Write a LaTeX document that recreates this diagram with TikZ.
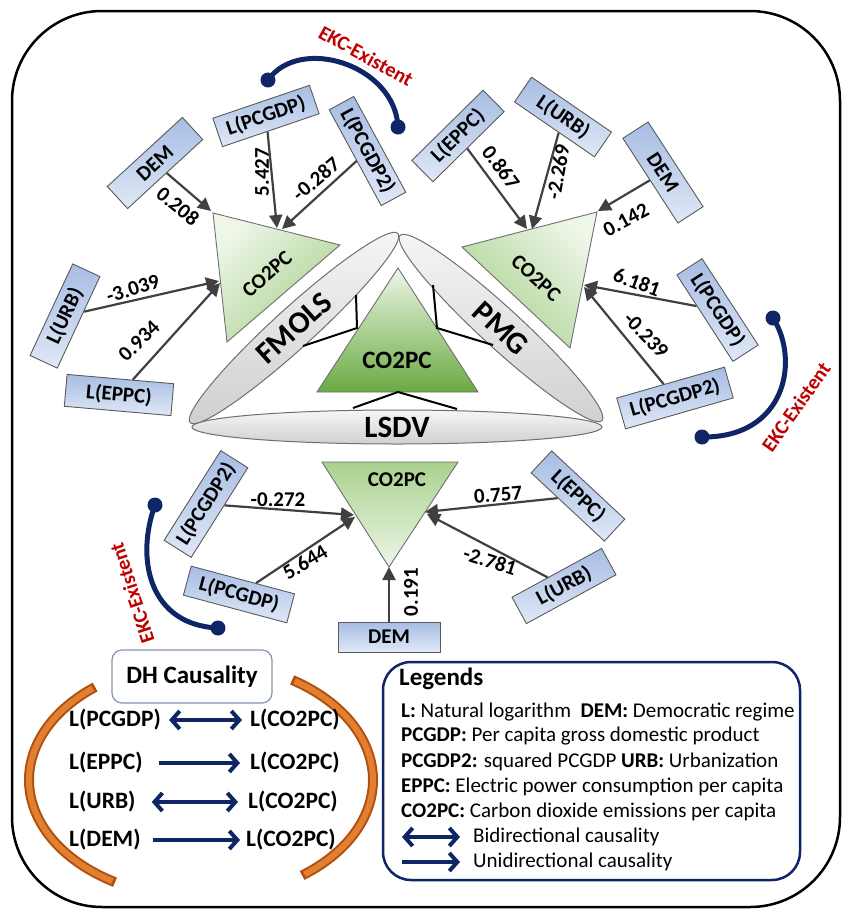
\documentclass[tikz,border=0pt]{standalone}
\usepackage{fontspec}
\setmainfont{Carlito}
\usetikzlibrary{arrows.meta,shapes.geometric}
\definecolor{navy}{HTML}{0E2566}
\definecolor{ekcred}{HTML}{C00000}
\definecolor{arrgray}{HTML}{404040}
\definecolor{boxtop}{HTML}{A7BDE3}
\definecolor{boxbot}{HTML}{DFE8F6}
\definecolor{boxline}{HTML}{5A5A5A}
\definecolor{glight}{HTML}{EEF6E8}
\definecolor{gmid}{HTML}{A9D18E}
\definecolor{gdark}{HTML}{6AAA42}
\definecolor{gline}{HTML}{6F6F6F}
\definecolor{ellA}{HTML}{F6F6F6}
\definecolor{ellB}{HTML}{D0D0D0}
\definecolor{orD}{HTML}{B0500E}
\definecolor{orL}{HTML}{E27F30}
\definecolor{dhline}{HTML}{8496B0}
\newcommand{\fsz}[1]{\fontsize{#1}{#1}\selectfont}
\begin{document}
\begin{tikzpicture}[x=1pt,y=-1pt,
 box/.style={draw=boxline, line width=0.9pt, top color=boxtop, bottom color=boxbot, minimum height=30pt, inner sep=0pt, font=\bfseries\fsz{21}},
 num/.style={font=\bfseries\fsz{21}, inner sep=0pt},
 arr/.style={draw=arrgray, line width=2.2pt, -{Triangle[length=13pt,width=13pt]}},
 tri/.style={draw=gline, line width=0.9pt},
 tlab/.style={font=\bfseries\fsz{21}, inner sep=0pt},
 ell/.style={ellipse, draw=gline, line width=1pt, top color=ellA, bottom color=ellB, inner sep=0pt, font=\bfseries\fsz{31}},
 link/.style={draw=black, line width=2pt},
 ekc/.style={draw=navy, line width=5pt},
 dot/.style={circle, fill=navy, minimum size=15pt, inner sep=0pt},
 ekct/.style={text=ekcred, font=\bfseries\fsz{20.5}, inner sep=0pt},
 dht/.style={font=\bfseries\fsz{23.5}, inner sep=0pt, anchor=west},
 dharr/.style={draw=navy, line width=4pt, {Straight Barb[length=8pt,width=18pt]}-{Straight Barb[length=8pt,width=18pt]}},
 uarr/.style={draw=navy, line width=4pt, -{Straight Barb[length=8pt,width=18pt]}},
 lg/.style={font=\fsz{21}, inner sep=0pt, anchor=west},
 orarcD/.style={draw=orD, line width=10pt},
 orarcL/.style={draw=orL, line width=6pt},
]
\useasboundingbox (0,0) rectangle (843,914);
\draw[line width=2.5pt, rounded corners=90pt] (12,11) rectangle (840,907);

% ---------- triangles ----------
\coordinate (t1a) at (213,213); \coordinate (t1b) at (340,245); \coordinate (t1c) at (227,342);
\shade[tri, top color=glight, bottom color=gmid, shading angle=45] (t1a) -- (t1b) -- (t1c) -- cycle;
\coordinate (t2a) at (462,247); \coordinate (t2b) at (597,212); \coordinate (t2c) at (570,348);
\shade[tri, top color=glight, bottom color=gmid, shading angle=-45] (t2a) -- (t2b) -- (t2c) -- cycle;
\coordinate (t3a) at (398,268); \coordinate (t3b) at (317,392); \coordinate (t3c) at (478,392);
\shade[tri, top color=glight, bottom color=gdark] (t3a) -- (t3b) -- (t3c) -- cycle;
\coordinate (t4a) at (322,462); \coordinate (t4b) at (458,462); \coordinate (t4c) at (389,567);
\shade[tri, top color=gmid, bottom color=glight] (t4a) -- (t4b) -- (t4c) -- cycle;

\node[tlab, rotate=41] (c1) at (267,274) {CO2PC};
\node[tlab, rotate=-42] (c2) at (536,278) {CO2PC};
\node[tlab, font=\bfseries\fsz{25}] (c3) at (397,360) {CO2PC};
\node[tlab] (c4) at (397,480) {CO2PC};

% ---------- ellipses ----------
\node[ell, minimum width=410pt, minimum height=34pt] (lsdv) at (397,427) {LSDV};
\node[ell, minimum width=281pt, minimum height=40pt, rotate=42.3] (fm) at (294,328) {FMOLS};
\node[ell, minimum width=274pt, minimum height=40pt, rotate=-42.5] (pmg) at (501,328) {PMG};

\coordinate (l0) at (357,328); \coordinate (l1) at (356,295); \coordinate (l2) at (303,346);
\coordinate (r0) at (437,328); \coordinate (r1) at (433,285); \coordinate (r2) at (493,345);
\coordinate (b0) at (398,392); \coordinate (b1) at (353,408); \coordinate (b2) at (457,409);
\draw[link] (l1) -- (l0) -- (l2);
\draw[link] (r1) -- (r0) -- (r2);
\draw[link] (b1) -- (b0) -- (b2);

% ---------- boxes ----------
\node[box, minimum width=102pt, rotate=42.6] (dem1) at (155,163) {DEM};
\node[box, minimum width=102pt, rotate=18.8] (pc1) at (266,116) {L(PCGDP)};
\node[box, minimum width=109pt, minimum height=28pt, rotate=-61.5] (pcq1) at (367.5,151) {L(PCGDP2)};
\node[box, minimum width=101pt, rotate=65] (urb1) at (65,316) {L(URB)};
\node[box, minimum width=107pt, minimum height=32pt, rotate=-5] (ep1) at (119,395) {L(EPPC)};

\node[box, minimum width=100pt, rotate=44.6] (ep2) at (458,136) {L(EPPC)};
\node[box, minimum width=97pt, rotate=-34.5] (urb2) at (563,117) {L(URB)};
\node[box, minimum width=101pt, rotate=-57] (dem2) at (663,172.5) {DEM};
\node[box, minimum width=103pt, rotate=-57] (pc2) at (717.5,310) {L(PCGDP)};
\node[box, minimum width=112pt, minimum height=32pt, rotate=16] (pcq2) at (675,398) {L(PCGDP2)};

\node[box, minimum width=106pt, minimum height=32pt, rotate=57.7] (pcq3) at (206,504) {L(PCGDP2)};
\node[box, minimum width=107pt, rotate=-15] (pc3) at (239,594.5) {L(PCGDP)};
\node[box, minimum width=102pt] (dem3) at (389,637) {DEM};
\node[box, minimum width=100pt, rotate=-43] (ep3) at (578,496) {L(EPPC)};
\node[box, minimum width=102pt, rotate=28.6] (urb3) at (564,586) {L(URB)};

% ---------- arrow targets ----------
\coordinate (p1) at (211,211); \coordinate (p2) at (277,228); \coordinate (p3) at (282,229);
\coordinate (p4) at (219,281); \coordinate (p5) at (220,283);
\coordinate (q1) at (527,229); \coordinate (q2) at (532,229); \coordinate (q3) at (598,211);
\coordinate (q4) at (584,285); \coordinate (q5) at (584,287);
\coordinate (s1) at (354,515); \coordinate (s2) at (355,517); \coordinate (s3) at (425,512);
\coordinate (s4) at (427,514); \coordinate (s5) at (389,567);

\draw[arr] (dem1) -- (p1);
\draw[arr] (pc1) -- (p2);
\draw[arr] (pcq1) -- (p3);
\draw[arr] (urb1) -- (p4);
\draw[arr] (ep1) -- (p5);
\draw[arr] (ep2) -- (q1);
\draw[arr] (urb2) -- (q2);
\draw[arr] (dem2) -- (q3);
\draw[arr] (pc2) -- (q4);
\draw[arr] (pcq2) -- (q5);
\draw[arr] (pcq3) -- (s1);
\draw[arr] (pc3) -- (s2);
\draw[arr] (ep3) -- (s3);
\draw[arr] (urb3) -- (s4);
\draw[arr] (dem3) -- (s5);

% ---------- coefficient labels ----------
\node[num, rotate=-39] (n1) at (178,206) {0.208};
\node[num, rotate=90] (n2) at (262,172) {5.427};
\node[num, rotate=40] (n3) at (316,179) {-0.287};
\node[num, rotate=18] (n4) at (133,289) {-3.039};
\node[num, rotate=44] (n5) at (139,341) {0.934};
\node[num, rotate=-53] (n6) at (501,167) {0.867};
\node[num, rotate=80] (n7) at (558,172) {-2.269};
\node[num, rotate=28] (n8) at (626,220) {0.142};
\node[num, rotate=-20] (n9) at (637,282) {6.181};
\node[num, rotate=-46] (n10) at (646,335) {-0.239};
\node[num] (n11) at (278,500) {-0.272};
\node[num, rotate=31] (n12) at (305,562) {5.644};
\node[num, rotate=90] (n13) at (411,592) {0.191};
\node[num, rotate=5] (n14) at (498,495) {0.757};
\node[num, rotate=-18] (n15) at (490,561) {-2.781};

% ---------- EKC arcs ----------
\node[dot] (e1a) at (268,80) {};
\node[dot] (e1b) at (398,127) {};
\draw[ekc] (e1a.center) .. controls (300,35) and (395,65) .. (e1b.center);
\node[ekct, rotate=-29] (k1) at (366,56) {EKC-Existent};

\node[dot] (e2a) at (773,318) {};
\node[dot] (e2b) at (702,437) {};
\draw[ekc] (e2a.center) .. controls (800,360) and (786,438) .. (e2b.center);
\node[ekct, rotate=55] (k2) at (796,407) {EKC-Existent};

\node[dot] (e3a) at (155,505) {};
\node[dot] (e3b) at (218,628) {};
\draw[ekc] (e3a.center) .. controls (135,560) and (150,625) .. (e3b.center);
\node[ekct, rotate=108] (k3) at (132,593) {EKC-Existent};

% ---------- DH causality ----------
\draw[orarcD] plot[domain=128:240, samples=60] ({201+172*cos(\x)},{780-118*sin(\x)});
\draw[orarcL] plot[domain=129:239, samples=60] ({201+172*cos(\x)},{780-118*sin(\x)});
\draw[orarcD] plot[domain=-54:58, samples=60] ({201+172*cos(\x)},{780-118*sin(\x)});
\draw[orarcL] plot[domain=-53:57, samples=60] ({201+172*cos(\x)},{780-118*sin(\x)});

\node[draw=dhline, line width=1.2pt, rounded corners=10pt, fill=white, minimum width=160pt, minimum height=53pt, font=\bfseries\fsz{25}] (dh) at (192,676.5) {DH Causality};

\node[dht] (r1l) at (69,720) {L(PCGDP)};
\node[dht] (r1r) at (250,720) {L(CO2PC)};
\node[dht] (r2l) at (69,763) {L(EPPC)};
\node[dht] (r2r) at (250,763) {L(CO2PC)};
\node[dht] (r3l) at (69,802) {L(URB)};
\node[dht] (r3r) at (248,802) {L(CO2PC)};
\node[dht] (r4l) at (69,840) {L(DEM)};
\node[dht] (r4r) at (246,840) {L(CO2PC)};
\draw[dharr, shorten <=8pt, shorten >=8pt] (r1l) -- (r1r);
\draw[uarr, shorten <=16pt, shorten >=10pt] (r2l) -- (r2r);
\draw[dharr, shorten <=16pt, shorten >=10pt] (r3l) -- (r3r);
\draw[uarr, shorten <=12pt, shorten >=6pt] (r4l) -- (r4r);

% ---------- Legend ----------
\node[draw=navy, line width=2.5pt, rounded corners=28pt, minimum width=417pt, minimum height=218pt] (leg) at (591.5,771) {};
\node[lg, font=\bfseries\fsz{25}] (lt) at (399,679) {Legends};
\node[lg] (lg1) at (401,712) {\textbf{L:} Natural logarithm\ \ \textbf{DEM:} Democratic regime};
\node[lg] (lg2) at (401,736) {\textbf{PCGDP:} Per capita gross domestic product};
\node[lg] (lg3) at (401,762) {\textbf{PCGDP2:} squared PCGDP \textbf{URB:} Urbanization};
\node[lg] (lg4) at (401,787) {\textbf{EPPC:} Electric power consumption per capita};
\node[lg] (lg5) at (401,812) {\textbf{CO2PC:} Carbon dioxide emissions per capita};
\coordinate (la1) at (402,837); \coordinate (lb1) at (460,837);
\coordinate (la2) at (402,862); \coordinate (lb2) at (460,862);
\draw[dharr] (la1) -- (lb1);
\draw[uarr] (la2) -- (lb2);
\node[lg] (lg6) at (473,837) {Bidirectional causality};
\node[lg] (lg7) at (473,862) {Unidirectional causality};
\end{tikzpicture}
\end{document}
